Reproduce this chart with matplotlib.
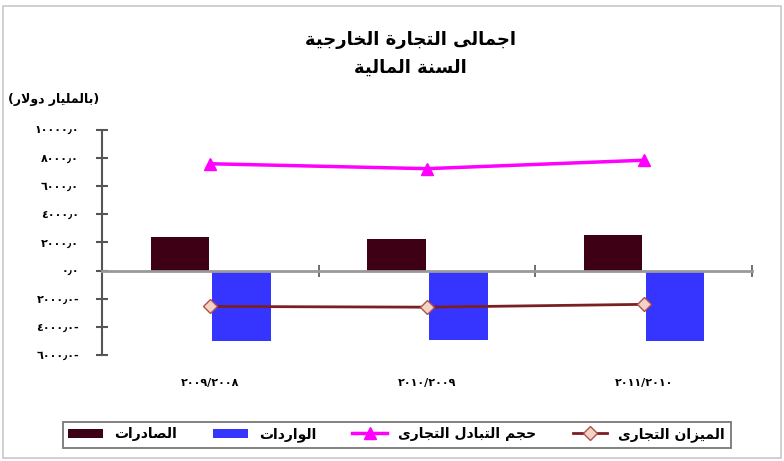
import matplotlib
matplotlib.use("Agg")
import matplotlib.pyplot as plt
import numpy as np
from matplotlib.patches import Rectangle

# ---- datos (millones de dolares) ----
periods = ["٢٠٠٩/٢٠٠٨", "٢٠١٠/٢٠٠٩", "٢٠١١/٢٠١٠"]
exports = [2400, 2250, 2500]
imports = [-5000, -4950, -5000]
volume = [7600, 7250, 7850]
balance = [-2550, -2600, -2400]
yticks = [-6000, -4000, -2000, 0, 2000, 4000, 6000, 8000, 10000]

title_1 = "اجمالى التجارة الخارجية"
title_2 = "السنة المالية"
unit_label = "(بالمليار دولار)"
lbl_exports = "الصادرات"
lbl_imports = "الواردات"
lbl_volume = "حجم التبادل التجارى"
lbl_balance = "الميزان التجارى"

# ---- forma minima del arabe (matplotlib no hace shaping) ----
FORMS = {
    'ا': (0xFE8D, 2), 'أ': (0xFE83, 2), 'إ': (0xFE87, 2), 'آ': (0xFE81, 2),
    'ب': (0xFE8F, 4), 'ة': (0xFE93, 2), 'ت': (0xFE95, 4), 'ث': (0xFE99, 4),
    'ج': (0xFE9D, 4), 'ح': (0xFEA1, 4), 'خ': (0xFEA5, 4), 'د': (0xFEA9, 2),
    'ذ': (0xFEAB, 2), 'ر': (0xFEAD, 2), 'ز': (0xFEAF, 2), 'س': (0xFEB1, 4),
    'ش': (0xFEB5, 4), 'ص': (0xFEB9, 4), 'ض': (0xFEBD, 4), 'ط': (0xFEC1, 4),
    'ظ': (0xFEC5, 4), 'ع': (0xFEC9, 4), 'غ': (0xFECD, 4), 'ف': (0xFED1, 4),
    'ق': (0xFED5, 4), 'ك': (0xFED9, 4), 'ل': (0xFEDD, 4), 'م': (0xFEE1, 4),
    'ن': (0xFEE5, 4), 'ه': (0xFEE9, 4), 'و': (0xFEED, 2), 'ى': (0xFEEF, 2),
    'ي': (0xFEF1, 4),
}
LAM_ALEF = {'ا': 0xFEFB, 'أ': 0xFEF7, 'إ': 0xFEF9, 'آ': 0xFEF5}


def shape(text):
    out = []
    i = 0
    n = len(text)
    while i < n:
        c = text[i]
        if c not in FORMS:
            out.append(c)
            i += 1
            continue
        prev = text[i - 1] if i > 0 else ''
        joins_prev = prev in FORMS and FORMS[prev][1] == 4
        if c == 'ل' and i + 1 < n and text[i + 1] in LAM_ALEF:
            out.append(chr(LAM_ALEF[text[i + 1]] + (1 if joins_prev else 0)))
            i += 2
            continue
        nxt = text[i + 1] if i + 1 < n else ''
        base, nforms = FORMS[c]
        joins_next = nforms == 4 and nxt in FORMS
        if joins_prev and joins_next:
            off = 3
        elif joins_next:
            off = 2
        elif joins_prev:
            off = 1
        else:
            off = 0
        out.append(chr(base + off))
        i += 1
    vis = ''.join(reversed(out))
    return vis.translate(str.maketrans('()', ')('))


AR_DIGITS = str.maketrans('0123456789.', '٠١٢٣٤٥٦٧٨٩٫')


def ar_num(v):
    s = f"{abs(v):.1f}".translate(AR_DIGITS)
    return s + "-" if v < 0 else s


plt.rcParams['font.family'] = ['DejaVu Sans']

fig = plt.figure(figsize=(7.84, 4.61), dpi=100)
fig.patches.append(Rectangle((0.004, 0.006), 0.992, 0.982, transform=fig.transFigure,
                             fill=False, edgecolor='#c8c8c8', linewidth=1.2))

ax = fig.add_axes([0.130, 0.230, 0.829, 0.488])
x = np.arange(len(periods))
w = 0.27

h_exp = ax.bar(x - 0.14, exports, w, color='#3d0014', label=shape(lbl_exports), zorder=2)
h_imp = ax.bar(x + 0.145, imports, w, color='#3535ff', label=shape(lbl_imports), zorder=2)
h_vol, = ax.plot(x, volume, color='#ff00ff', linewidth=2.5, marker='^', markersize=8,
                 label=shape(lbl_volume), zorder=3)
h_bal, = ax.plot(x, balance, color='#7a1f24', linewidth=2, marker='D', markersize=7,
                 markerfacecolor='#f3d2c8', markeredgecolor='#b0504a',
                 label=shape(lbl_balance), zorder=3)

ax.set_xlim(-0.5, 2.5)
ax.set_ylim(-6000, 10000)
ax.set_yticks(yticks)
ax.set_yticklabels([ar_num(v) for v in yticks], fontsize=8, fontweight='bold')

for s in ['top', 'right']:
    ax.spines[s].set_visible(False)
ax.spines['left'].set_color('#555555')
ax.spines['left'].set_linewidth(1.5)
ax.spines['bottom'].set_position(('data', 0))
ax.spines['bottom'].set_color('#999999')
ax.spines['bottom'].set_linewidth(2)
ax.tick_params(axis='y', direction='inout', length=9, width=1.5, color='#555555', pad=12)
ax.set_xticks([0.5, 1.5, 2.5])
ax.set_xticklabels([])
ax.tick_params(axis='x', direction='inout', length=9, width=1.2, color='#555555')

for xi, p in zip(x, periods):
    ax.text(xi, -0.125, p, transform=ax.get_xaxis_transform(), ha='center', va='center',
            fontsize=8, fontweight='bold')

fig.text(0.523, 0.913, shape(title_1), ha='center', va='center', fontsize=13, fontweight='bold')
fig.text(0.523, 0.853, shape(title_2), ha='center', va='center', fontsize=13, fontweight='bold')
fig.text(0.068, 0.785, shape(unit_label), ha='center', va='center', fontsize=9, fontweight='bold')

leg = fig.legend(handles=[h_exp, h_imp, h_vol, h_bal], loc='center',
                 bbox_to_anchor=(0.506, 0.057), ncol=4, frameon=True,
                 fancybox=False, edgecolor='#555555', prop={'size': 10, 'weight': 'bold'},
                 handlelength=2.5, columnspacing=2.6, borderpad=0.4)
leg.get_frame().set_linewidth(1.3)

fig.savefig('out.png', dpi=100)
